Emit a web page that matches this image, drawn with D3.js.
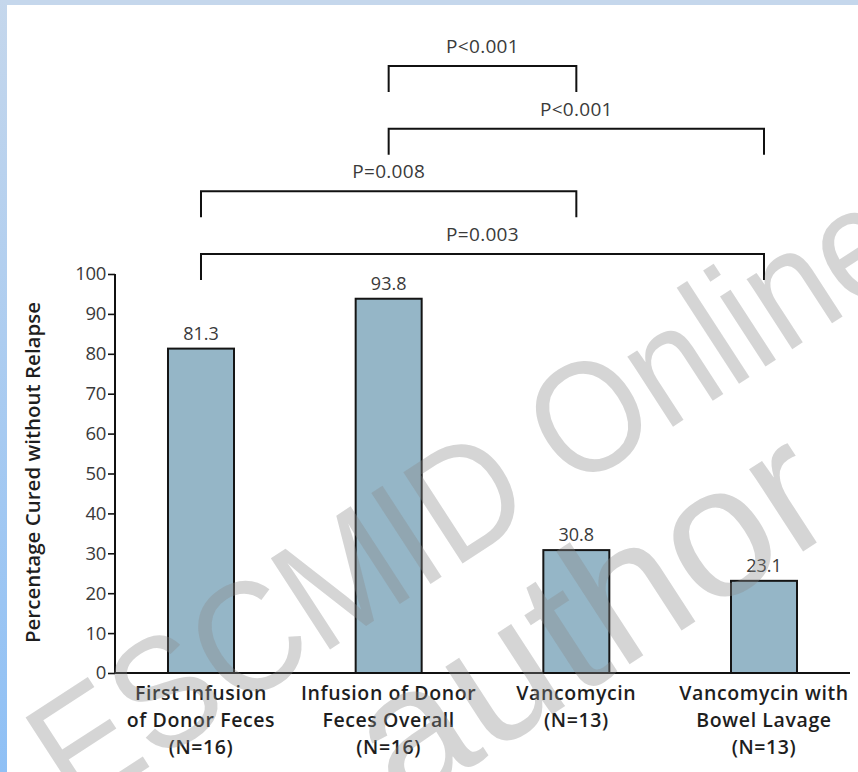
<!DOCTYPE html>
<html>
<head>
<meta charset="utf-8">
<script src="https://cdn.jsdelivr.net/npm/d3@7"></script>
<style>
  html, body { margin: 0; padding: 0; background: #ffffff; }
  svg { display: block; }
</style>
</head>
<body>
<svg id="chart" width="858" height="772"></svg>
<script>
// Study arms, in plotting order
const categories = [
  ["First Infusion", "of Donor Feces", "(N=16)"],
  ["Infusion of Donor", "Feces Overall", "(N=16)"],
  ["Vancomycin", "(N=13)"],
  ["Vancomycin with", "Bowel Lavage", "(N=13)"]
];
const categoryKeys = ["first", "overall", "vanco", "lavage"];

// Percentage cured without relapse
const curedPct = [81.3, 93.8, 30.8, 23.1];

// Pairwise comparisons: [from arm, to arm, label, stacking level (0 = top)]
const comparisons = [
  ["overall", "vanco", "P<0.001", 0],
  ["overall", "lavage", "P<0.001", 1],
  ["first", "vanco", "P=0.008", 2],
  ["first", "lavage", "P=0.003", 3]
];

const yTicks = [0, 10, 20, 30, 40, 50, 60, 70, 80, 90, 100];
const yTitle = "Percentage Cured without Relapse";

const W = 858, H = 772;
const svg = d3.select("#chart");
const font = "'Open Sans', 'Noto Sans', sans-serif";

// Frame: pale blue band along the top and left edges
const defs = svg.append("defs");
const grad = defs.append("linearGradient").attr("id", "edge").attr("x1", 0).attr("y1", 0).attr("x2", 0).attr("y2", 1);
grad.append("stop").attr("offset", "0%").attr("stop-color", "#c5d7ec");
grad.append("stop").attr("offset", "100%").attr("stop-color", "#8fc0f5");
svg.append("rect").attr("x", 0).attr("y", 0).attr("width", W).attr("height", 5).attr("fill", "#c5d7ec");
svg.append("rect").attr("x", 0).attr("y", 0).attr("width", 7).attr("height", H).attr("fill", "url(#edge)");

const plot = { left: 115, right: 850, top: 274, bottom: 673 };

const x = d3.scaleBand()
  .domain(categoryKeys)
  .range([plot.left, plot.right])
  .paddingInner(0.6483)
  .paddingOuter(0.2824);

const y = d3.scaleLinear().domain([0, 100]).range([plot.bottom, plot.top]);

const g = svg.append("g");

// Bars
g.selectAll("rect.bar")
  .data(curedPct)
  .join("rect")
  .attr("class", "bar")
  .attr("x", (d, i) => x(categoryKeys[i]))
  .attr("y", d => y(d))
  .attr("width", x.bandwidth())
  .attr("height", d => y(0) - y(d))
  .attr("fill", "#95b6c7")
  .attr("stroke", "#151515")
  .attr("stroke-width", 2);

// Value labels above bars
g.selectAll("text.value")
  .data(curedPct)
  .join("text")
  .attr("class", "value")
  .attr("x", (d, i) => x(categoryKeys[i]) + x.bandwidth() / 2)
  .attr("y", d => y(d) - 9)
  .attr("text-anchor", "middle")
  .attr("font-family", font)
  .attr("font-size", 18)
  .attr("fill", "#3a3a3a")
  .text(d => d.toFixed(1));

// Y axis
const yAxis = d3.axisLeft(y).tickValues(yTicks).tickSize(7).tickPadding(2).tickFormat(d3.format("d"));
const ya = g.append("g").attr("transform", `translate(${plot.left},0)`).call(yAxis);
ya.select(".domain").attr("stroke", "#111").attr("stroke-width", 2).attr("d", `M0,${plot.top}V${plot.bottom}`);
ya.selectAll(".tick line").attr("stroke", "#111").attr("stroke-width", 1.6);
ya.selectAll(".tick text")
  .attr("font-family", font)
  .attr("font-size", 18.5)
  .attr("fill", "#3a3a3a")
  .attr("letter-spacing", "-0.3px");

// X axis baseline
const xAxis = d3.axisBottom(x).tickSize(0).tickFormat("");
const xa = g.append("g").attr("transform", `translate(0,${plot.bottom})`).call(xAxis);
xa.select(".domain").attr("stroke", "#111").attr("stroke-width", 2).attr("d", `M${plot.left},0H${plot.right}`);

// Category labels (multi-line)
const catG = g.selectAll("text.cat")
  .data(categories)
  .join("text")
  .attr("class", "cat")
  .attr("text-anchor", "middle")
  .attr("font-family", font)
  .attr("font-weight", 600)
  .attr("font-size", 19.5)
  .attr("letter-spacing", "0.6px")
  .attr("fill", "#1e1e1e");
catG.each(function (lines, i) {
  const t = d3.select(this);
  const cx = x(categoryKeys[i]) + x.bandwidth() / 2;
  lines.forEach((ln, j) => {
    t.append("tspan").attr("x", cx).attr("y", plot.bottom + 27 + j * 27).text(ln);
  });
});

// Y axis title
svg.append("text")
  .attr("transform", `translate(40,${(plot.top + plot.bottom) / 2 - 1}) rotate(-90)`)
  .attr("text-anchor", "middle")
  .attr("font-family", font)
  .attr("font-weight", 600)
  .attr("font-size", 20.5)
  .attr("fill", "#1e1e1e")
  .text(yTitle);

// Significance brackets
const levelY = d3.scaleLinear().domain([0, 3]).range([66, 254]);
const cx = k => x(k) + x.bandwidth() / 2;
const br = g.selectAll("g.bracket").data(comparisons).join("g").attr("class", "bracket");
br.append("path")
  .attr("d", d => {
    const yy = levelY(d[3]);
    return `M${cx(d[0])},${yy + 26}V${yy}H${cx(d[1])}V${yy + 26}`;
  })
  .attr("fill", "none")
  .attr("stroke", "#111")
  .attr("stroke-width", 2);
br.append("text")
  .attr("x", d => (cx(d[0]) + cx(d[1])) / 2)
  .attr("y", d => levelY(d[3]) - 13)
  .attr("text-anchor", "middle")
  .attr("font-family", font)
  .attr("font-size", 19)
  .attr("letter-spacing", "0.3px")
  .attr("fill", "#3a3a3a")
  .text(d => d[2]);

// Publisher watermark across the figure
const wm = svg.append("g").attr("pointer-events", "none");
wm.append("text")
  .attr("transform", "translate(75,815) rotate(-33) scale(0.9,1)")
  .attr("font-family", "'Liberation Sans', Arial, sans-serif")
  .attr("font-size", 158)
  .attr("fill", "#8a8a8a")
  .attr("fill-opacity", 0.36)
  .text("ESCMID Online");
wm.append("text")
  .attr("transform", "translate(402,812) rotate(-33)")
  .attr("font-family", "'Liberation Sans', Arial, sans-serif")
  .attr("font-size", 186)
  .attr("fill", "#8a8a8a")
  .attr("fill-opacity", 0.36)
  .text("author");
</script>
</body>
</html>
